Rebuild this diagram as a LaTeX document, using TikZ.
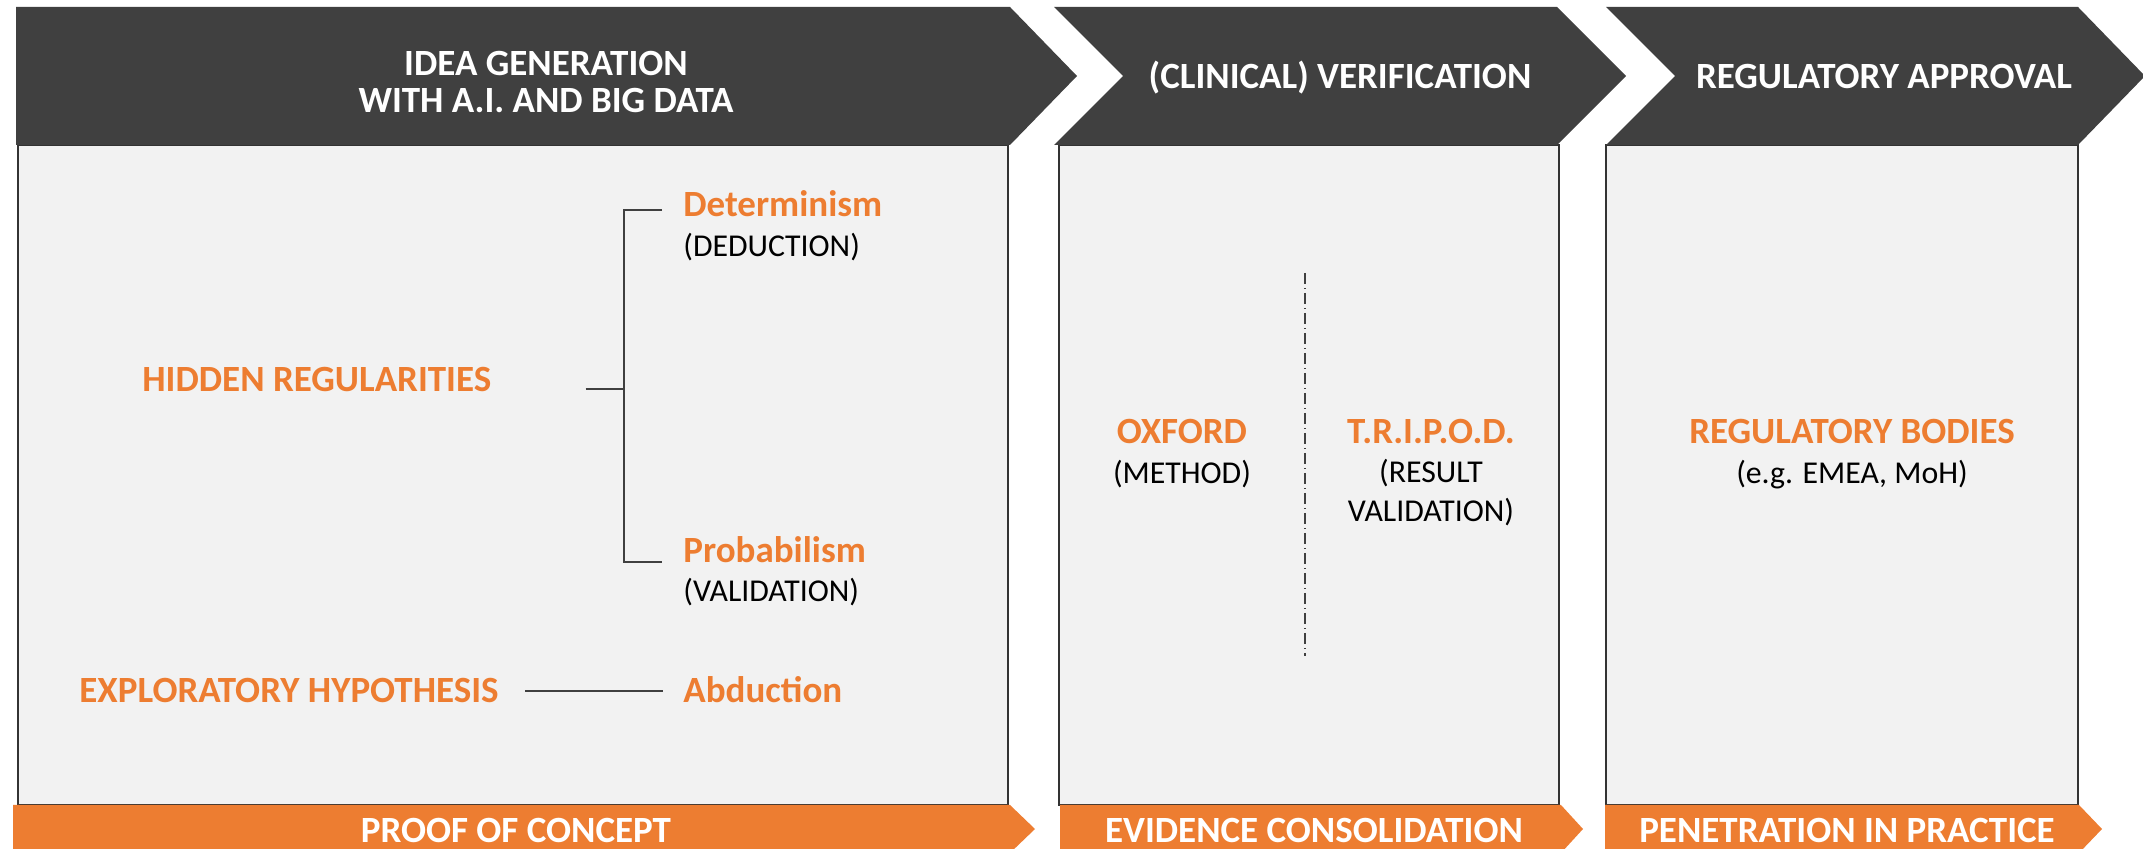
\documentclass[tikz,border=0pt]{standalone}
\usepackage{fontspec}
\setmainfont{Carlito}
\usetikzlibrary{positioning}
\definecolor{stage_dark}{HTML}{404040}
\definecolor{stage_light}{HTML}{F2F2F2}
\definecolor{stage_orange}{HTML}{ED7D31}
\definecolor{stage_rule}{HTML}{333333}

\begin{document}
\begin{tikzpicture}[
        x=0.5pt,
        y=-0.5pt,
        line join=miter,
        head/.style={text=white, font=\fontsize{18.5}{18.5}\selectfont\bfseries, align=center, inner sep=0pt},
        key/.style={text=stage_orange, font=\fontsize{18.5}{19}\selectfont\bfseries, inner sep=0pt},
        sub/.style={text=black, font=\fontsize{15.9}{19.5}\selectfont, align=center, inner sep=0pt},
        panel/.style={fill=stage_light, draw=stage_rule, line width=1.3pt},
        link/.style={draw=stage_dark, line width=1pt},
    ]
    \useasboundingbox (0,0) rectangle (2143,849);

    % Panels
    \draw[panel] (18,145) rectangle (1008,805);
    \draw[panel] (1059,145) rectangle (1559,805);
    \draw[panel] (1606,145) rectangle (2078,805);

    % Dark stage arrows on top
    \fill[stage_dark] (16,7) -- (1010,7) -- (1077,76) -- (1010,145) -- (16,145) -- cycle;
    \fill[stage_dark] (1054,7) -- (1557,7) -- (1626,76) -- (1557,145) -- (1054,145) -- (1123,76) -- cycle;
    \fill[stage_dark] (1606,7) -- (2078,7) -- (2145,76) -- (2078,145) -- (1606,145) -- (1675,76) -- cycle;

    % multi-line nodes sit on their last baseline
    \node[head, anchor=base] (ideahead) at (546,113) {IDEA GENERATION\\WITH A.I. AND BIG DATA};
    \node[head, anchor=base] (verihead) at (1340,89) {(CLINICAL) VERIFICATION};
    \node[head, anchor=base] (apprhead) at (1884,89) {REGULATORY APPROVAL};

    % Orange outcome bars at the bottom
    \fill[stage_orange] (13,805) -- (1010,805) -- (1035,829) -- (1010,853) -- (13,853) -- cycle;
    \fill[stage_orange] (1060,805) -- (1561,805) -- (1583,829) -- (1561,853) -- (1060,853) -- cycle;
    \fill[stage_orange] (1605,805) -- (2079,805) -- (2102,829) -- (2079,853) -- (1605,853) -- cycle;

    \node[head, anchor=base] (proof) at (516,842) {PROOF OF CONCEPT};
    \node[head, anchor=base] (evid) at (1314,842) {EVIDENCE CONSOLIDATION};
    \node[head, anchor=base] (pene) at (1847,842) {PENETRATION IN PRACTICE};

    % Idea generation panel
    \node[key, anchor=base west] (hidden) at (142,392) {HIDDEN REGULARITIES};
    \node[key, anchor=base west] (determ) at (683,217) {Determinism};
    \node[sub, anchor=base west] (deduct) at (683,257) {(DEDUCTION)};
    \node[key, anchor=base west] (probab) at (683,563) {Probabilism};
    \node[sub, anchor=base west] (valid) at (683,602) {(VALIDATION)};
    \node[key, anchor=base west] (explor) at (79,703) {EXPLORATORY HYPOTHESIS};
    \node[key, anchor=base west] (abduct) at (683,703) {Abduction};

    \draw[link] ([xshift=47pt, yshift=1.5pt]hidden.base east) -- ++(38,0) coordinate (fork);
    \draw[link] ([xshift=-10.5pt, yshift=3.5pt]determ.base west) -| (fork) |- ([xshift=-10.5pt, yshift=0.5pt]probab.base west);
    \draw[link] ([xshift=13pt, yshift=6pt]explor.base east) -- ([xshift=-10pt, yshift=6pt]abduct.base west);

    % Verification panel
    \node[key, anchor=base] (oxford) at (1182,444) {OXFORD};
    \node[sub, anchor=base] (method) at (1182,484) {(METHOD)};
    \node[key, anchor=base] (tripod) at (1431,444) {T.R.I.P.O.D.};
    \node[sub, anchor=base] (result) at (1431,522) {(RESULT\\VALIDATION)};
    \draw[stage_dark, line width=0.8pt, dash pattern=on 5.5pt off 2pt on 0.5pt off 2pt] (1305,273) -- (1305,656);

    % Approval panel
    \node[key, anchor=base] (bodies) at (1852,444) {REGULATORY BODIES};
    \node[sub, anchor=base] (emea) at (1852,484) {(e.g. EMEA, MoH)};
\end{tikzpicture}
\end{document}
